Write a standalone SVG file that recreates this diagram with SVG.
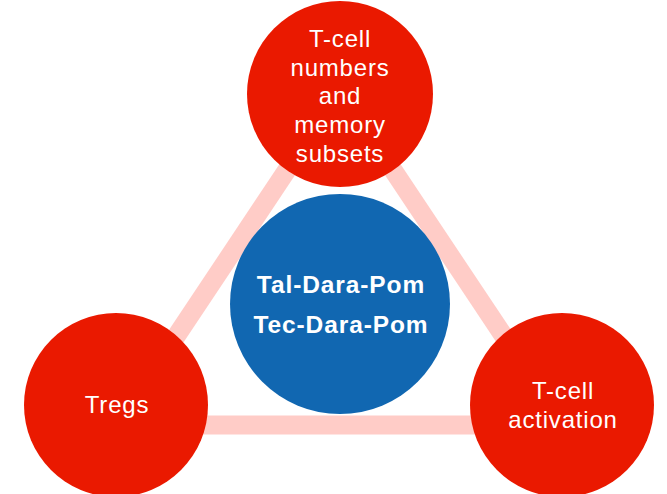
<svg xmlns="http://www.w3.org/2000/svg" width="667" height="494" viewBox="0 0 667 494">
<style>
.link{stroke:#FFCCC7;stroke-width:19;fill:none;stroke-linecap:butt}
.red{fill:#EA1900}
.blue{fill:#1167B1}
.lbl{font-family:"Liberation Sans",Arial,sans-serif;font-size:24px;fill:#fff;text-anchor:middle;letter-spacing:0.8px}
.bold{font-family:"Liberation Sans",Arial,sans-serif;font-size:24.5px;font-weight:bold;fill:#fff;text-anchor:middle;letter-spacing:0.9px}
</style>
<rect width="667" height="494" fill="#fff"/>
<g id="connectors">
<line class="link" x1="337" y1="95" x2="117" y2="425"/>
<line class="link" x1="343" y1="95" x2="563" y2="425"/>
<line class="link" x1="117" y1="425" x2="563" y2="425"/>
</g>
<g id="node-top">
<circle class="red" cx="340" cy="94" r="93"/>
<text class="lbl" x="340" y="47">T-cell</text>
<text class="lbl" x="340" y="76">numbers</text>
<text class="lbl" x="340" y="104">and</text>
<text class="lbl" x="340" y="133">memory</text>
<text class="lbl" x="340" y="162">subsets</text>
</g>
<g id="node-center">
<circle class="blue" cx="340" cy="304" r="110"/>
<text class="bold" x="341" y="293">Tal-Dara-Pom</text>
<text class="bold" x="341" y="333">Tec-Dara-Pom</text>
</g>
<g id="node-tregs">
<circle class="red" cx="116" cy="405" r="92"/>
<text class="lbl" x="117" y="413">Tregs</text>
</g>
<g id="node-activation">
<circle class="red" cx="562" cy="405" r="92"/>
<text class="lbl" x="563" y="399">T-cell</text>
<text class="lbl" x="563" y="428">activation</text>
</g>
</svg>
